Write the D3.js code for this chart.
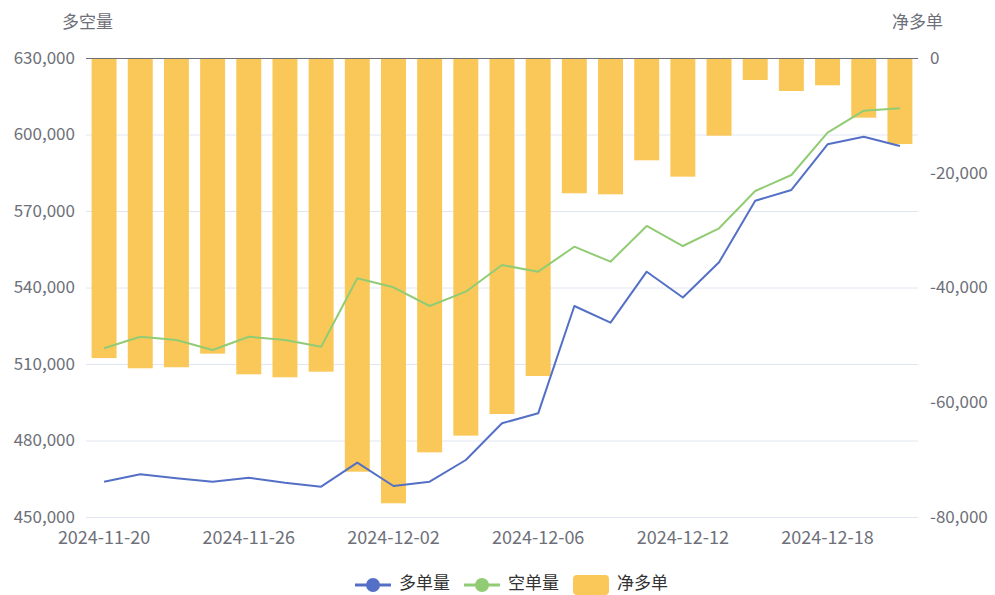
<!DOCTYPE html>
<html><head><meta charset="utf-8">
<script src="https://cdn.jsdelivr.net/npm/d3@7"></script>
<style>body{margin:0;background:#fff;}svg{display:block;font-family:"Noto Sans CJK SC","Noto Sans",sans-serif;}</style>
</head><body><svg id="c" width="995" height="595"></svg>
<script>
const dates = ["2024-11-20","2024-11-21","2024-11-22","2024-11-25","2024-11-26","2024-11-27","2024-11-28","2024-11-29","2024-12-02","2024-12-03","2024-12-04","2024-12-05","2024-12-06","2024-12-09","2024-12-10","2024-12-11","2024-12-12","2024-12-13","2024-12-16","2024-12-17","2024-12-18","2024-12-19","2024-12-20"];
const longVol = [463850,466730,465160,463850,465420,463400,461900,471300,462160,463850,472350,486750,490660,532750,526200,546200,536100,549880,574040,578240,596150,599150,595490];
const shortVol = [516150,520710,519410,515490,520710,519410,516800,543600,540080,532750,538360,548820,546200,556000,550120,564120,556270,563210,577840,584120,600710,609330,610270];
const netLong = [-52300,-54080,-53900,-51530,-55130,-55650,-54670,-72100,-77610,-68730,-65820,-62050,-55420,-23580,-23760,-17830,-20680,-13540,-3830,-5750,-4760,-10400,-14990];
const leftTicks = [450000,480000,510000,540000,570000,600000,630000];
const rightTicks = [-80000,-60000,-40000,-20000,0];
const seriesNames = ["多单量","空单量","净多单"];
const colors = ["#5470c6","#91cc75","#fac858"];

const svg = d3.select("#c");
const L = 86, R = 918, T = 58, B = 517;
const x = d3.scaleBand().domain(dates).range([L, R]).padding(0);
const yL = d3.scaleLinear().domain([450000, 630000]).range([B, T]);
const yR = d3.scaleLinear().domain([-80000, 0]).range([B, T]);
const fmt = d3.format(",");
const textCol = "#6e7079";
const FS = 17;

// grid
svg.append("g").selectAll("line").data(leftTicks).join("line")
  .attr("x1", L).attr("x2", R).attr("y1", d => yL(d) + 0.5).attr("y2", d => yL(d) + 0.5)
  .attr("stroke", "#e0e6f1").attr("stroke-width", 1);

// bars
const bw = x.bandwidth() * 0.69;
svg.append("g").selectAll("rect").data(netLong).join("rect")
  .attr("x", (d, i) => x(dates[i]) + x.bandwidth() / 2 - bw / 2)
  .attr("width", bw)
  .attr("y", d => yR(0))
  .attr("height", d => yR(d) - yR(0))
  .attr("fill", colors[2]);

// x axis line at top (zero of bars)
svg.append("line").attr("x1", L).attr("x2", R).attr("y1", T + 0.5).attr("y2", T + 0.5)
  .attr("stroke", textCol).attr("stroke-width", 1);

// lines
const cx = i => x(dates[i]) + x.bandwidth() / 2;
[[longVol, colors[0]], [shortVol, colors[1]]].forEach(([data, col]) => {
  svg.append("path").datum(data)
    .attr("d", d3.line().x((d, i) => cx(i)).y(d => yL(d)))
    .attr("fill", "none").attr("stroke", col).attr("stroke-width", 2)
    .attr("stroke-linejoin", "round");
});

// left axis labels
svg.append("g").selectAll("text").data(leftTicks).join("text")
  .attr("x", L - 11).attr("y", d => yL(d)).attr("dy", "0.35em")
  .attr("text-anchor", "end").attr("font-size", FS).attr("fill", textCol)
  .text(d => fmt(d));
// right axis labels
svg.append("g").selectAll("text").data(rightTicks).join("text")
  .attr("x", R + 12).attr("y", d => yR(d)).attr("dy", "0.35em")
  .attr("text-anchor", "start").attr("font-size", FS).attr("fill", textCol)
  .text(d => fmt(d).replace("−", "-"));
// x labels
svg.append("g").selectAll("text").data(dates.filter((d, i) => i % 4 === 0)).join("text")
  .attr("x", d => x(d) + x.bandwidth() / 2).attr("y", 537.5).attr("dy", "0.35em")
  .attr("text-anchor", "middle").attr("font-size", 18).attr("fill", textCol)
  .text(d => d);
// axis names
svg.append("text").attr("x", 87.5).attr("y", 22).attr("dy", "0.35em").attr("text-anchor", "middle")
  .attr("font-size", FS).attr("fill", textCol).text("多空量");
svg.append("text").attr("x", 917.5).attr("y", 22).attr("dy", "0.35em").attr("text-anchor", "middle")
  .attr("font-size", FS).attr("fill", textCol).text("净多单");

// legend
const lg = svg.append("g").attr("transform", "translate(0,585)");
const items = [{x: 355, t: seriesNames[0], c: colors[0], type: "line"},
               {x: 464, t: seriesNames[1], c: colors[1], type: "line"},
               {x: 573, t: seriesNames[2], c: colors[2], type: "rect"}];
items.forEach(it => {
  if (it.type === "line") {
    lg.append("line").attr("x1", it.x).attr("x2", it.x + 36).attr("y1", 0).attr("y2", 0)
      .attr("stroke", it.c).attr("stroke-width", 3);
    lg.append("circle").attr("cx", it.x + 18).attr("cy", 0).attr("r", 7).attr("fill", it.c);
  } else {
    lg.append("rect").attr("x", it.x).attr("y", -10).attr("width", 36).attr("height", 20)
      .attr("rx", 4).attr("fill", it.c);
  }
  lg.append("text").attr("x", it.x + 44).attr("y", -2).attr("dy", "0.35em")
    .attr("font-size", FS).attr("fill", "#333").text(it.t);
});
</script></body></html>
